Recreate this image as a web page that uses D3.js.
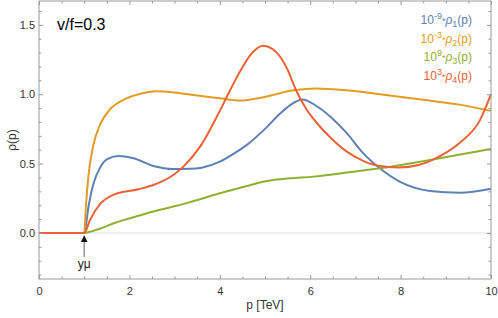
<!DOCTYPE html>
<html>
<head>
<meta charset="utf-8">
<script src="https://cdn.jsdelivr.net/npm/d3@7"></script>
<style>
body { margin: 0; background: #fff; }
text { font-family: "Liberation Sans", Arial, sans-serif; }
</style>
</head>
<body>
<div id="chart"></div>
<script>
// data (p in TeV, scaled rho)
const rho1 = [[0,0],[0.5,0],[1,0],[1.1,0.2],[1.2,0.35],[1.35,0.47],[1.5,0.53],[1.75,0.555],[2.09,0.538],[2.53,0.483],[2.97,0.461],[3.34,0.462],[3.6,0.47],[4.0,0.514],[4.3,0.57],[4.6,0.635],[5.0,0.75],[5.3,0.85],[5.55,0.92],[5.83,0.962],[6.14,0.915],[6.44,0.84],[6.81,0.719],[7.17,0.575],[7.54,0.466],[7.99,0.368],[8.65,0.303],[9.31,0.290],[10,0.318]];
const rho2 = [[0,0],[0.5,0],[1,0],[1.04,0.2],[1.09,0.4],[1.2,0.63],[1.35,0.78],[1.57,0.89],[1.87,0.96],[2.2,1.0],[2.6,1.022],[3.0,1.012],[3.5,0.99],[4.0,0.971],[4.45,0.954],[4.96,0.978],[5.63,1.028],[6.14,1.041],[6.81,1.028],[7.54,1.0],[8.5,0.96],[9.3,0.925],[10,0.88]];
const rho3 = [[0,0],[0.5,0],[1,0],[1.2,0.015],[1.35,0.03],[1.64,0.068],[2.09,0.113],[2.53,0.154],[2.97,0.19],[3.34,0.222],[4.0,0.286],[4.6,0.339],[5.04,0.375],[5.55,0.394],[6.07,0.406],[6.81,0.435],[7.54,0.466],[8.65,0.526],[10,0.605]];
const rho4 = [[0,0],[0.5,0],[1,0],[1.13,0.094],[1.35,0.207],[1.64,0.274],[2.2,0.315],[2.53,0.346],[2.97,0.418],[3.2,0.48],[3.56,0.62],[4.0,0.88],[4.23,1.03],[4.45,1.165],[4.67,1.28],[4.96,1.35],[5.26,1.3],[5.48,1.19],[5.7,1.02],[5.92,0.89],[6.18,0.78],[6.44,0.69],[6.81,0.586],[7.17,0.52],[7.54,0.482],[7.95,0.472],[8.4,0.49],[8.85,0.55],[9.31,0.65],[9.76,0.815],[10,1.0]];
const series = [rho1, rho2, rho3, rho4];
const colors = ["#5e81b5", "#e19c24", "#8fb032", "#eb6235"];
const legendExp = ["-9", "-3", "9", "3"];
const xTicks = [0, 2, 4, 6, 8, 10];
const yTicks = [0.0, 0.5, 1.0, 1.5];

const W = 498, H = 318;
const mLeft = 39, mRight = 491, mTop = 1, mBottom = 279;

const svg = d3.select('#chart').append('svg').attr('width', W).attr('height', H);

const x = d3.scaleLinear().domain([0, 10]).range([mLeft, mRight]);
const y = d3.scaleLinear().domain([-0.332, 1.672]).range([mBottom, mTop]);

// zero grid line
svg.append('line')
    .attr('x1', mLeft).attr('x2', mRight)
    .attr('y1', y(0)).attr('y2', y(0))
    .style('stroke', '#e0e0e0').style('stroke-width', 1);

// curves
const line = d3.line().x(d => x(d[0])).y(d => y(d[1])).curve(d3.curveMonotoneX);
series.forEach((s, i) => {
    svg.append('path')
        .attr('d', line(s))
        .attr('fill', 'none')
        .attr('stroke', colors[i])
        .attr('stroke-width', 2);
});

// frame with ticks on all sides
const frameCol = '#999';
const xMinor = d3.range(0, 10.01, 0.5).filter(v => xTicks.indexOf(v) < 0);
const yMinor = d3.range(-0.3, 1.65, 0.1).map(v => Math.round(v * 10) / 10).filter(v => yTicks.indexOf(v) < 0);

const axB = d3.axisBottom(x).tickValues(xTicks).tickSizeInner(-4).tickSizeOuter(0).tickPadding(8).tickFormat(d3.format('d'));
const axL = d3.axisLeft(y).tickValues(yTicks).tickSizeInner(-4).tickSizeOuter(0).tickPadding(4).tickFormat(d3.format('.1f'));
svg.append('g').attr('transform', `translate(0,${mBottom})`).call(axB);
svg.append('g').attr('transform', `translate(${mLeft},0)`).call(axL);
svg.append('g').attr('transform', `translate(0,${mTop})`).call(d3.axisTop(x).tickValues(xTicks).tickSizeInner(-4).tickSizeOuter(0).tickFormat(''));
svg.append('g').attr('transform', `translate(${mRight},0)`).call(d3.axisRight(y).tickValues(yTicks).tickSizeInner(-4).tickSizeOuter(0).tickFormat(''));
svg.append('g').attr('transform', `translate(0,${mBottom})`).call(d3.axisBottom(x).tickValues(xMinor).tickSizeInner(-2.5).tickSizeOuter(0).tickFormat(''));
svg.append('g').attr('transform', `translate(0,${mTop})`).call(d3.axisTop(x).tickValues(xMinor).tickSizeInner(-2.5).tickSizeOuter(0).tickFormat(''));
svg.append('g').attr('transform', `translate(${mLeft},0)`).call(d3.axisLeft(y).tickValues(yMinor).tickSizeInner(-2.5).tickSizeOuter(0).tickFormat(''));
svg.append('g').attr('transform', `translate(${mRight},0)`).call(d3.axisRight(y).tickValues(yMinor).tickSizeInner(-2.5).tickSizeOuter(0).tickFormat(''));
svg.selectAll('.domain').remove();
svg.selectAll('.tick line').style('stroke', frameCol);
svg.selectAll('.tick text').style('font-size', '11px').style('fill', '#333');

svg.append('rect')
    .attr('x', mLeft).attr('y', mTop)
    .attr('width', mRight - mLeft).attr('height', mBottom - mTop)
    .attr('fill', 'none').style('stroke', frameCol).style('stroke-width', 1);

// axis labels
svg.append('text')
    .attr('x', x(5)).attr('y', 309)
    .attr('text-anchor', 'middle')
    .style('font-size', '12px').style('fill', '#333')
    .text('p [TeV]');
svg.append('text')
    .attr('transform', `translate(16,${y(0.67)}) rotate(-90)`)
    .attr('text-anchor', 'middle')
    .style('font-size', '12px').style('fill', '#333')
    .text('ρ(p)');

// title
svg.append('text')
    .attr('x', 57).attr('y', 30)
    .style('font-size', '16px').style('fill', '#000')
    .text('v/f=0.3');

// legend
const legend = svg.append('g');
colors.forEach((c, i) => {
    const t = legend.append('text')
        .attr('x', 472).attr('y', 24 + i * 18.7)
        .attr('text-anchor', 'end')
        .style('font-size', '12px').style('fill', c);
    t.append('tspan').text('10');
    t.append('tspan').attr('dy', -5).style('font-size', '9px').text(legendExp[i]);
    t.append('tspan').attr('dy', 5).style('font-size', '9px').text('*');
    t.append('tspan').style('font-style', 'italic').text('ρ');
    t.append('tspan').attr('dy', 3).style('font-size', '9px').text(String(i + 1));
    t.append('tspan').attr('dy', -3).text('(p)');
});

// threshold arrow
const ax0 = x(1);
svg.append('defs').append('marker')
    .attr('id', 'head').attr('viewBox', '0 0 10 10')
    .attr('refX', 9).attr('refY', 5)
    .attr('markerWidth', 6).attr('markerHeight', 6)
    .attr('orient', 'auto')
    .append('path').attr('d', 'M0,0 L10,5 L0,10 z').attr('fill', '#111');
svg.append('line')
    .attr('x1', ax0).attr('x2', ax0)
    .attr('y1', 257).attr('y2', 236)
    .style('stroke', '#777').style('stroke-width', 1.2)
    .attr('marker-end', 'url(#head)');
svg.append('text')
    .attr('x', ax0).attr('y', 268)
    .attr('text-anchor', 'middle')
    .style('font-size', '12px').style('fill', '#222')
    .text('yμ');
</script>
</body>
</html>
